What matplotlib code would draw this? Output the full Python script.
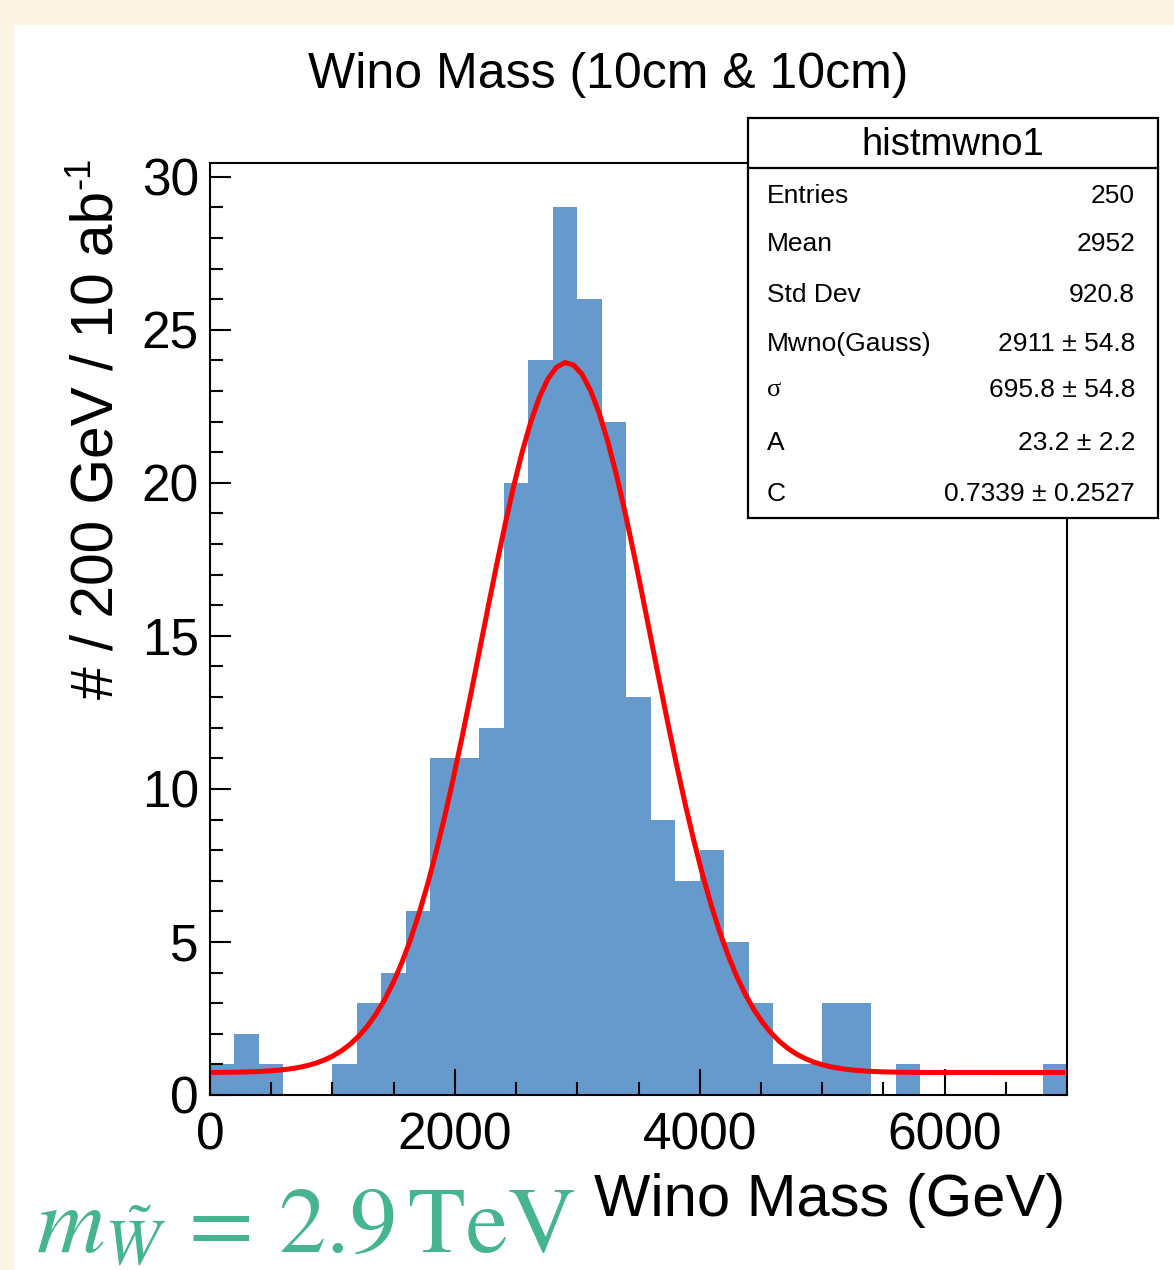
import numpy as np
import matplotlib
matplotlib.use('Agg')
import matplotlib.pyplot as plt
from matplotlib.patches import Rectangle
from matplotlib.ticker import MultipleLocator

plt.rcParams['font.family'] = ['Liberation Sans', 'DejaVu Sans']
plt.rcParams['mathtext.fontset'] = 'stix'

# histogram contents, 200 GeV bins from 0 to 7000
bin_edges = np.arange(0, 7001, 200)
counts = [1, 2, 1, 0, 0, 1, 3, 4, 6, 11, 11, 12, 20, 24, 29, 26, 22, 13, 9, 7,
          8, 5, 3, 1, 1, 3, 3, 0, 1, 0, 0, 0, 0, 0, 1]

# fit parameters from the stat box
fit_mean = 2911.0
fit_sigma = 695.8
fit_A = 23.2
fit_C = 0.7339

stat_labels = ['Entries', 'Mean', 'Std Dev', 'Mwno(Gauss)', 'σ', 'A', 'C']
stat_values = ['250', '2952', '920.8', '2911 ± 54.8', '695.8 ± 54.8', '23.2 ± 2.2', '0.7339 ± 0.2527']

W, H = 1174, 1270
fig = plt.figure(figsize=(W/100, H/100), dpi=100)
fig.patch.set_facecolor('#FDF5E3')
# white panel
fig.patches.append(Rectangle((14/W, 0), 1, 1 - 25/H, transform=fig.transFigure,
                             facecolor='white', edgecolor='none', zorder=-1))

ax = fig.add_axes([210/W, (H-1095)/H, 857/W, 932/H])
ax.stairs(counts, bin_edges, fill=True, color='#6699CC', linewidth=0)

xf = np.linspace(25, 6965, 100)
yf = fit_C + fit_A*np.exp(-0.5*((xf - fit_mean)/fit_sigma)**2)
ax.plot(xf, yf, color='red', lw=3.6)

ax.set_xlim(0, 7000)
ax.set_ylim(0, 30.45)
ax.xaxis.set_major_locator(MultipleLocator(2000))
ax.xaxis.set_minor_locator(MultipleLocator(500))
ax.yaxis.set_major_locator(MultipleLocator(5))
ax.yaxis.set_minor_locator(MultipleLocator(1))
ax.tick_params(which='both', direction='in', top=False, right=False, width=1.5, labelsize=37)
ax.tick_params(axis='x', which='major', length=19, pad=12)
ax.tick_params(axis='x', which='minor', length=9.5)
ax.tick_params(axis='y', which='major', length=15, pad=8)
ax.tick_params(axis='y', which='minor', length=9)
for s in ax.spines.values():
    s.set_linewidth(1.5)

fig.text(608/W, 1 - 75/H, 'Wino Mass (10cm & 10cm)', ha='center', va='center', fontsize=36)
fig.text(1065/W, 1 - 1200/H, 'Wino Mass (GeV)', ha='right', va='center', fontsize=43)
fig.text(97/W, 1 - 699/H, '# / 200 GeV / 10 ab', ha='left', va='center',
         rotation=90, rotation_mode='anchor', fontsize=42.2)
fig.text(80/W, 1 - 189/H, '-1', ha='left', va='center',
         rotation=90, rotation_mode='anchor', fontsize=26)

fig.text(36/W, 1 - 1252/H, r'$m_{\tilde{W}}\,=\,2.9\,\mathrm{TeV}$', ha='left', va='baseline',
         fontsize=68, color='#46B58E')

# stat box
bx0, by0, bx1, by1 = 748, 118, 1158, 518
fig.patches.append(Rectangle((bx0/W, 1 - by1/H), (bx1-bx0)/W, (by1-by0)/H, transform=fig.transFigure,
                             facecolor='white', edgecolor='black', lw=1.6, zorder=5))
fig.lines.append(plt.Line2D([bx0/W, bx1/W], [1 - 168/H, 1 - 168/H], transform=fig.transFigure,
                            color='black', lw=1.6, zorder=6))
fig.text((bx0+bx1)/2/W, 1 - 145/H, 'histmwno1', ha='center', va='center', fontsize=27.5, zorder=7)
row_y = [196, 244, 295, 344, 390, 443, 494]
for lab, val, y in zip(stat_labels, stat_values, row_y):
    fam = ['Liberation Serif'] if lab == 'σ' else ['Liberation Sans', 'DejaVu Sans']
    fig.text(767/W, 1 - y/H, lab, ha='left', va='center', fontsize=19, family=fam, zorder=7)
    fig.text(1135/W, 1 - y/H, val, ha='right', va='center', fontsize=19, zorder=7)

fig.savefig('out.png', dpi=100, facecolor=fig.get_facecolor())
